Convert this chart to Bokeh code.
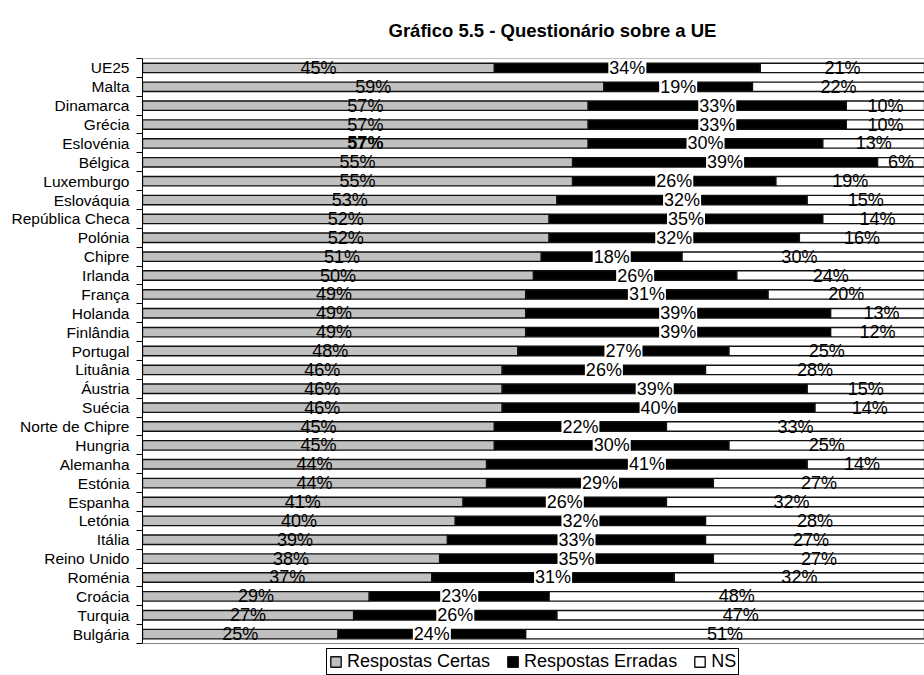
from bokeh.plotting import figure
from bokeh.models import Range1d, FixedTicker, ColumnDataSource, Legend, LegendItem, Span
from bokeh.embed import file_html
from bokeh.resources import INLINE
from bokeh.core.properties import value

countries = ["UE25", "Malta", "Dinamarca", "Grécia", "Eslovénia", "Bélgica", "Luxemburgo",
             "Eslováquia", "República Checa", "Polónia", "Chipre", "Irlanda", "França",
             "Holanda", "Finlândia", "Portugal", "Lituânia", "Áustria", "Suécia",
             "Norte de Chipre", "Hungria", "Alemanha", "Estónia", "Espanha", "Letónia",
             "Itália", "Reino Unido", "Roménia", "Croácia", "Turquia", "Bulgária"]
certas = [45, 59, 57, 57, 57, 55, 55, 53, 52, 52, 51, 50, 49, 49, 49, 48, 46, 46, 46, 45,
          45, 44, 44, 41, 40, 39, 38, 37, 29, 27, 25]
erradas = [34, 19, 33, 33, 30, 39, 26, 32, 35, 32, 18, 26, 31, 39, 39, 27, 26, 39, 40, 22,
           30, 41, 29, 26, 32, 33, 35, 31, 23, 26, 24]
ns = [21, 22, 10, 10, 13, 6, 19, 15, 14, 16, 30, 24, 20, 13, 12, 25, 28, 15, 14, 33,
      25, 14, 27, 32, 28, 27, 27, 32, 48, 47, 51]
series_names = ["Respostas Certas", "Respostas Erradas", "NS"]
bold_labels = ["Eslovénia"]
title_text = "Gráfico 5.5 - Questionário sobre a UE"
TOTAL = 100  # stacked bars are shares of 100 %

n = len(countries)
ys = list(range(n))
c_right = [c for c in certas]
e_right = [c + e for c, e in zip(certas, erradas)]
# the "NS" share is the remainder up to 100 %, so every bar fills the full width
n_right = [max(TOTAL, r) for r in e_right]

src = ColumnDataSource(dict(
    y=ys,
    c_left=[0] * n, c_right=c_right,
    e_left=c_right, e_right=e_right,
    n_left=e_right, n_right=n_right,
    c_mid=[r / 2 for r in c_right],
    e_mid=[l + (r - l) / 2 for l, r in zip(c_right, e_right)],
    n_mid=[l + s / 2 for l, s in zip(e_right, ns)],
    c_lab=[f"{v}%" for v in certas],
    e_lab=[f"{v}%" for v in erradas],
    n_lab=[f"{v}%" for v in ns],
    c_style=["bold" if c in bold_labels else "normal" for c in countries],
))

FONT = "Liberation Sans"

# layout: category rows occupy 586 px from the top of the frame; the frame continues
# to the bottom of the page so that the legend can sit below the bars
W, H = 924, 675
TOP, LEFT = 57, 142
rows_px = 586
row_px = rows_px / n
y_bottom = -0.5 + (H - TOP) / row_px

p = figure(width=W, height=H, x_range=Range1d(0, TOTAL), y_range=Range1d(y_bottom, -0.5),
           output_backend="svg", toolbar_location=None, x_axis_location=None,
           min_border_left=LEFT, min_border_right=0, min_border_top=TOP, min_border_bottom=0)
p.xgrid.grid_line_color = None
p.ygrid.grid_line_color = None
p.outline_line_color = None
p.background_fill_color = "white"

p.title.text = title_text
p.title.text_font = FONT
p.title.text_font_size = "18.5px"
p.title.text_font_style = "bold"
p.title.text_color = "black"
p.title.align = "left"
p.title.offset = 246
p.title.standoff = 35

ax = p.yaxis[0]
ax.bounds = (-0.5, n - 0.5)
ax.ticker = FixedTicker(ticks=ys, minor_ticks=[i - 0.5 for i in range(n + 1)])
ax.major_label_overrides = {i: c for i, c in enumerate(countries)}
ax.major_tick_in = 0
ax.major_tick_out = 0
ax.minor_tick_in = 0
ax.minor_tick_out = 6
ax.minor_tick_line_color = "black"
ax.axis_line_color = "black"
ax.major_label_standoff = 7
ax.major_label_text_font = FONT
ax.major_label_text_font_size = "15.5px"
ax.major_label_text_color = "black"

LINE = "#111111"
LW = 1.4
r1 = p.hbar(y="y", left="c_left", right="c_right", height=0.5, source=src,
            fill_color="#c0c0c0", line_color=LINE, line_width=LW)
r2 = p.hbar(y="y", left="e_left", right="e_right", height=0.5, source=src,
            fill_color="black", line_color=LINE, line_width=LW)
r3 = p.hbar(y="y", left="n_left", right="n_right", height=0.5, source=src,
            fill_color="white", line_color=LINE, line_width=LW)

p.add_layout(Span(location=-0.5, dimension="width", line_color="#808080", line_width=1))
p.add_layout(Span(location=n - 0.5, dimension="width", line_color="#808080", line_width=1))

common = dict(y="y", source=src, text_align="center", text_baseline="middle",
              text_font=value(FONT), text_font_size="18px", text_color="black")
p.text(x="c_mid", text="c_lab", text_font_style="c_style", **common)
p.text(x="e_mid", text="e_lab", background_fill_color="white", padding=1, **common)
p.text(x="n_mid", text="n_lab", **common)

legend = Legend(items=[LegendItem(label=series_names[0], renderers=[r1]),
                       LegendItem(label=series_names[1], renderers=[r2]),
                       LegendItem(label=series_names[2], renderers=[r3])],
                orientation="horizontal", location=(184, 0), margin=0,
                border_line_color="black", border_line_width=1, border_line_alpha=1,
                padding=2, spacing=16, label_standoff=5,
                glyph_width=13, glyph_height=13, label_height=19,
                label_text_font=FONT, label_text_font_size="18px", label_text_color="black",
                background_fill_color="white", background_fill_alpha=1)
p.add_layout(legend)

open("out.html", "w").write(file_html(p, INLINE))
